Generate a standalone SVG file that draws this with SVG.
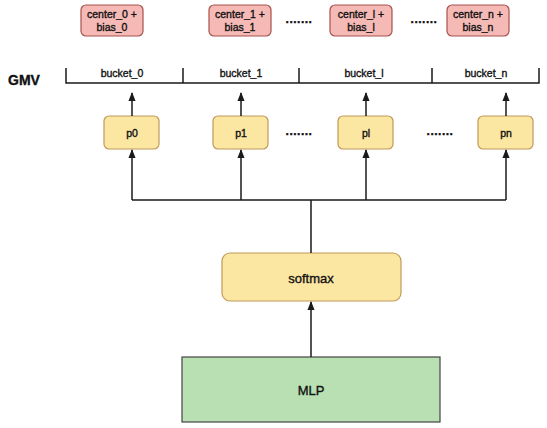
<svg xmlns="http://www.w3.org/2000/svg" width="547" height="428" viewBox="0 0 547 428">
<defs>
<style>
text{font-family:"Liberation Sans",Arial,sans-serif;fill:#111;stroke:#111;stroke-width:0.35;text-anchor:middle;dominant-baseline:central}
.red{fill:#f5b9b6;stroke:#a8524e;stroke-width:1.2}
.yel{fill:#fbe6a2;stroke:#c09a5a;stroke-width:1.2}
.grn{fill:#b8e0b2;stroke:#444;stroke-width:1.2}
.ln{stroke:#1a1a1a;stroke-width:1.5;fill:none}
.s{font-size:10.5px}
.m{font-size:13px}
.dots{font-size:12px;font-weight:bold;letter-spacing:0.5px}
</style>
<marker id="ah" viewBox="0 0 10 10" refX="9" refY="5" markerWidth="6" markerHeight="6" orient="auto"><path d="M0,1 L10,5 L0,9 z" fill="#1a1a1a"/></marker>
</defs>
<rect width="547" height="428" fill="#fff"/>

<g id="center_0"><rect class="red" x="81" y="5" width="62" height="31" rx="5"/><text class="s" x="112" y="14">center_0 +</text><text class="s" x="112" y="27">bias_0</text></g>
<g id="center_1"><rect class="red" x="209" y="5" width="62" height="31" rx="5"/><text class="s" x="240" y="14">center_1 +</text><text class="s" x="240" y="27">bias_1</text></g>
<g id="center_l"><rect class="red" x="330" y="5" width="62" height="31" rx="5"/><text class="s" x="361" y="14">center_l +</text><text class="s" x="361" y="27">bias_l</text></g>
<g id="center_n"><rect class="red" x="447" y="5" width="62" height="31" rx="5"/><text class="s" x="478" y="14">center_n +</text><text class="s" x="478" y="27">bias_n</text></g>
<text class="dots" x="299" y="19">.......</text>
<text class="dots" x="424" y="19">.......</text>

<g id="gmv">
<text x="24" y="80" style="font-size:14px;font-weight:bold">GMV</text>
<path class="ln" d="M66,68 V83 H539 V68 M183,68 V83 M299,68 V83 M432,68 V83"/>
<text class="s" x="122" y="73">bucket_0</text>
<text class="s" x="241" y="73">bucket_1</text>
<text class="s" x="364" y="73">bucket_l</text>
<text class="s" x="486" y="73">bucket_n</text>
</g>

<g id="p0"><rect class="yel" x="104" y="116" width="55" height="33" rx="5"/><text class="s" x="132" y="133">p0</text></g>
<g id="p1"><rect class="yel" x="213" y="116" width="55" height="33" rx="5"/><text class="s" x="241" y="133">p1</text></g>
<g id="pl"><rect class="yel" x="338" y="116" width="55" height="33" rx="5"/><text class="s" x="366" y="133">pl</text></g>
<g id="pn"><rect class="yel" x="478" y="116" width="55" height="33" rx="5"/><text class="s" x="506" y="133">pn</text></g>
<text class="dots" x="299" y="131">.......</text>
<text class="dots" x="440" y="131">.......</text>

<g id="softmax"><rect class="yel" x="222" y="253" width="179" height="48" rx="8"/><text class="m" x="311" y="278">softmax</text></g>
<g id="mlp"><rect class="grn" x="182" y="357" width="258" height="65"/><text class="m" x="311" y="390">MLP</text></g>

<g id="connectors">
<path class="ln" d="M132,116 V93" marker-end="url(#ah)"/>
<path class="ln" d="M241,116 V93" marker-end="url(#ah)"/>
<path class="ln" d="M366,116 V93" marker-end="url(#ah)"/>
<path class="ln" d="M506,116 V93" marker-end="url(#ah)"/>
<path class="ln" d="M311,253 V200 M132,200 H506"/>
<path class="ln" d="M132,200 V150" marker-end="url(#ah)"/>
<path class="ln" d="M241,200 V150" marker-end="url(#ah)"/>
<path class="ln" d="M366,200 V150" marker-end="url(#ah)"/>
<path class="ln" d="M506,200 V150" marker-end="url(#ah)"/>
<path class="ln" d="M311,357 V302" marker-end="url(#ah)"/>
</g>
</svg>
